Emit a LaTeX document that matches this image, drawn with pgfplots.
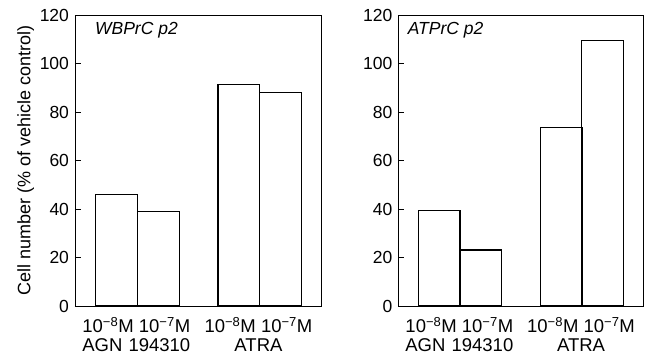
\documentclass[border=0pt]{standalone}
\usepackage{fontspec}
\setmainfont{Liberation Sans}
\usepackage{pgfplots}
\pgfplotsset{compat=1.18}
\begin{document}
\fontsize{17.5}{20}\selectfont
\begin{tikzpicture}
\useasboundingbox (0,0) rectangle (663pt,361pt);
\pgfplotsset{
  panel/.style={
    scale only axis, width=246pt, height=291pt,
    anchor=south west,
    xmin=0, xmax=5.9, ymin=0, ymax=120,
    ytick={0,20,...,120},
    ytick pos=left, tick align=inside,
    major tick length=6pt,
    xtick={1.47,4.40},
    x tick style={draw=none},
    xticklabel style={align=center, font=\fontsize{18.5}{19.5}\selectfont, yshift=-5pt},
    yticklabel style={font=\fontsize{17.5}{20}\selectfont},
    /pgf/number format/assume math mode=true,
    axis line style={line width=0.9pt},
    tick style={line width=0.9pt, black},
    xticklabels={10\textsuperscript{\fontsize{13}{13}\selectfont −8}M 10\textsuperscript{\fontsize{13}{13}\selectfont −7}M\\AGN\,\,194310, 10\textsuperscript{\fontsize{13}{13}\selectfont −8}M 10\textsuperscript{\fontsize{13}{13}\selectfont −7}M\\ATRA},
  },
  bars/.style={ybar, bar width=1, bar shift=0pt, draw=black, fill=white, line width=1.1pt},
}
\begin{axis}[panel, at={(75pt,55pt)},
  ylabel={Cell number (\% of vehicle control)},
  ylabel style={font=\fontsize{18}{20}\selectfont, at={(axis description cs:-0.2,0.5)}, anchor=center}]
\addplot[bars] coordinates {(1,46.0) (2,39.0) (3.93,91.4) (4.93,87.9)};
\node[anchor=north west, font=\itshape\fontsize{17.5}{20}\selectfont, inner sep=0pt] at (rel axis cs:0.081,0.975) {WBPrC p2};
\end{axis}
\begin{axis}[panel, at={(398.3pt,55pt)}, width=245pt]
\addplot[bars] coordinates {(0.985,39.2) (1.99,23.1) (3.93,73.5) (4.92,109.4)};
\node[anchor=north west, font=\itshape\fontsize{17.5}{20}\selectfont, inner sep=0pt] at (rel axis cs:0.038,0.975) {ATPrC p2};
\end{axis}
\end{tikzpicture}
\end{document}
